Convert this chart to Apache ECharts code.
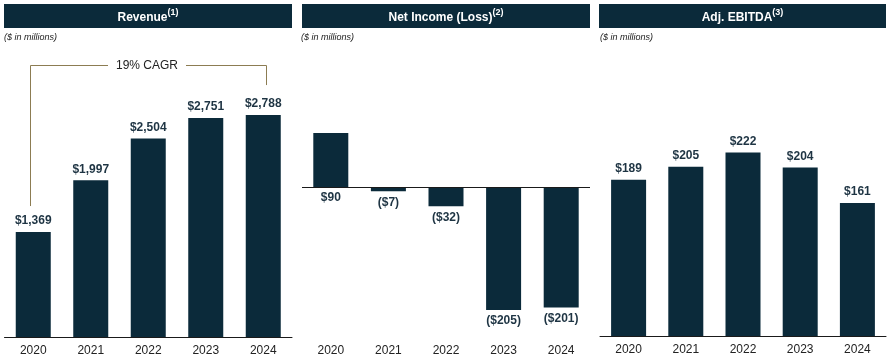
<!DOCTYPE html>
<html><head><meta charset="utf-8">
<script src="https://cdn.jsdelivr.net/npm/echarts@6/dist/echarts.min.js"></script>
<style>html,body{margin:0;padding:0;background:#fff}#c{width:888px;height:364px}</style>
</head><body><div id="c"></div>
<script>
const years = ['2020', '2021', '2022', '2023', '2024'];
const revenue = [1369, 1997, 2504, 2751, 2788];
const netIncome = [90, -7, -32, -205, -201];
const ebitda = [189, 205, 222, 204, 161];
const revenueLabels = ['$1,369', '$1,997', '$2,504', '$2,751', '$2,788'];
const netIncomeLabels = ['$90', '($7)', '($32)', '($205)', '($201)'];
const ebitdaLabels = ['$189', '$205', '$222', '$204', '$161'];
const panelTitles = ['Revenue', 'Net Income (Loss)', 'Adj. EBITDA'];
const panelNotes = ['(1)', '(2)', '(3)'];
const subtitle = '($ in millions)';
const cagrText = '19% CAGR';

const FONT = '"Liberation Sans", Arial, Helvetica, sans-serif';
const NAVY = '#0b2a3a';
const LABEL = '#1e3443';
const GOLD = '#8c7c52';

const chart = echarts.init(document.getElementById('c'), null, {renderer: 'canvas'});

const grids = [
  {left: 4.5, width: 287.5, top: 97, bottom: 27},
  {left: 302, width: 288, top: 97, bottom: 27},
  {left: 600, width: 286, top: 96, bottom: 28}
];
const yRanges = [[96, 3007], [-250, 150], [0, 290.5]];

function xAx(i) {
  return {
    type: 'category', gridIndex: i, data: years,
    axisTick: {show: false},
    axisLine: {show: i !== 1, onZero: false, lineStyle: {color: '#1a1a1a', width: 1}},
    axisLabel: {color: '#222', fontSize: 12, fontFamily: FONT, margin: 8}
  };
}
function yAx(i) {
  return {
    type: 'value', gridIndex: i, min: yRanges[i][0], max: yRanges[i][1],
    show: false, splitLine: {show: false}
  };
}
function barSeries(i, data, labels, pos) {
  return {
    type: 'bar', xAxisIndex: i, yAxisIndex: i, data: data, barWidth: 35,
    itemStyle: {color: NAVY},
    label: {
      show: true, position: pos, distance: 5,
      fontFamily: FONT, fontSize: 12, fontWeight: 'bold', color: LABEL,
      formatter: p => labels[p.dataIndex]
    },
    silent: true, animation: false
  };
}

const ni = barSeries(1, netIncome, netIncomeLabels, 'bottom');
ni.markLine = {
  silent: true, symbol: ['none', 'none'],
  label: {show: false},
  lineStyle: {color: '#1a1a1a', width: 1, type: 'solid'},
  data: [{yAxis: 0}],
  animation: false
};

chart.setOption({
  animation: false,
  grid: grids,
  xAxis: [xAx(0), xAx(1), xAx(2)],
  yAxis: [yAx(0), yAx(1), yAx(2)],
  series: [
    barSeries(0, revenue, revenueLabels, 'top'),
    ni,
    barSeries(2, ebitda, ebitdaLabels, 'top')
  ]
});

// headers and annotations
const headers = [[4, 288], [302, 288], [599, 287]];
const g = [];
headers.forEach((h, i) => {
  g.push({type: 'rect', shape: {x: h[0], y: 4, width: h[1], height: 24}, style: {fill: NAVY}, silent: true});
  g.push({
    type: 'text', x: h[0] + h[1] / 2, y: 16, silent: true,
    style: {
      text: '{t|' + panelTitles[i] + '}{s|' + panelNotes[i] + '}',
      align: 'center', verticalAlign: 'middle',
      rich: {
        t: {fill: '#fff', fontSize: 12, fontWeight: 'bold', fontFamily: FONT, lineHeight: 16, verticalAlign: 'bottom'},
        s: {fill: '#fff', fontSize: 9, fontWeight: 'bold', fontFamily: FONT, lineHeight: 16, verticalAlign: 'top'}
      }
    }
  });
  g.push({
    type: 'text', x: [4, 301, 600][i], y: 37, silent: true,
    style: {text: subtitle, fill: '#222', fontSize: 9, fontStyle: 'italic', fontFamily: FONT, verticalAlign: 'middle'}
  });
});

// CAGR bracket
const p0 = chart.convertToPixel({xAxisIndex: 0, yAxisIndex: 0}, [0, revenue[0]]);
const p4 = chart.convertToPixel({xAxisIndex: 0, yAxisIndex: 0}, [4, revenue[4]]);
const xL = Math.round(p0[0] - 3) + 0.5, xR = Math.round(p4[0] + 2.5) + 0.5;
const yT = Math.round(Math.min(p0[1], p4[1]) - 50) + 0.5;
const xc = (xL + xR) / 2 - 1.5;
const ls = {stroke: GOLD, lineWidth: 1, fill: null};
g.push({type: 'polyline', shape: {points: [[xL, p0[1] - 26], [xL, yT], [xc - 39, yT]]}, style: ls, silent: true});
g.push({type: 'polyline', shape: {points: [[xc + 39, yT], [xR, yT], [xR, p4[1] - 30]]}, style: ls, silent: true});
g.push({type: 'text', x: xc, y: yT, silent: true,
  style: {text: cagrText, fill: '#222', fontSize: 12, fontFamily: FONT, align: 'center', verticalAlign: 'middle'}});

chart.setOption({graphic: g});
</script></body></html>
